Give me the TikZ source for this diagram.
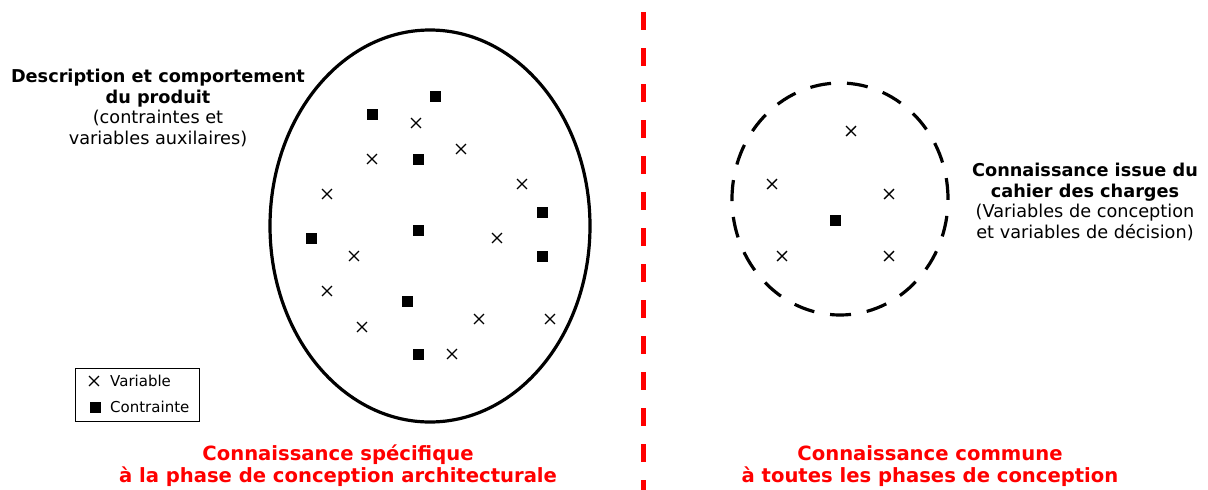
\documentclass[tikz,border=0pt]{standalone}
\usepackage{fontspec}
\setmainfont{DejaVu Sans}
\usetikzlibrary{shapes.geometric, shapes.misc, positioning}

\begin{document}
\begin{tikzpicture}[
    x=1pt, y=-1pt,
    var/.style={cross out, draw=black, line width=1.4pt, minimum size=8.5pt, inner sep=0pt},
    con/.style={rectangle, fill=black, minimum size=11pt, inner sep=0pt},
    lbl/.style={align=center, font=\fontsize{17.7}{20.7}\selectfont},
    knw/.style={align=center, text=red, font=\fontsize{19.6}{22}\selectfont\bfseries},
    leg/.style={font=\fontsize{15}{17}\selectfont, anchor=west, inner sep=0pt},
]
\useasboundingbox (0,0) rectangle (1208,490);

% Knowledge sets
\node[ellipse, draw, line width=3.2pt, minimum width=320pt, minimum height=392pt] (spec) at (430,226) {};
\node[ellipse, draw, line width=3.2pt, dash pattern=on 21pt off 16pt,
      minimum width=216pt, minimum height=232pt] (comm) at (840,199) {};

% Separator
\coordinate (septop) at (643,12);
\coordinate (sepbot) at (643,490);
\draw[red, line width=5pt, dash pattern=on 18pt off 18pt] (septop) -- (sepbot);

% Constraints (specific)
\node[con] (c1) at (435,96) {};
\node[con] (c2) at (372,114) {};
\node[con] (c3) at (418,159) {};
\node[con] (c4) at (418,230) {};
\node[con] (c5) at (311,238) {};
\node[con] (c6) at (542,212) {};
\node[con] (c7) at (542,256) {};
\node[con] (c8) at (407,301) {};
\node[con] (c9) at (418,354) {};

% Variables (specific)
\node[var] (v1) at (416,123) {};
\node[var] (v2) at (372,159) {};
\node[var] (v3) at (461,149) {};
\node[var] (v4) at (327,194) {};
\node[var] (v5) at (522,184) {};
\node[var] (v6) at (497,238) {};
\node[var] (v7) at (354,256) {};
\node[var] (v8) at (327,291) {};
\node[var] (v9) at (479,319) {};
\node[var] (v10) at (550,319) {};
\node[var] (v11) at (362,327) {};
\node[var] (v12) at (452,354) {};

% Common set
\node[var] (w1) at (851,131) {};
\node[var] (w2) at (772,184) {};
\node[var] (w3) at (889,194) {};
\node[var] (w4) at (782,256) {};
\node[var] (w5) at (889,256) {};
\node[con] (d1) at (835,220) {};

% Side labels
\node[lbl] (desc) at (158,108) {\textbf{Description et comportement}\\\textbf{du produit}\\(contraintes et\\variables auxilaires)};
\node[lbl] (cdc) at (1085,202) {\textbf{Connaissance issue du}\\\textbf{cahier des charges}\\(Variables de conception\\et variables de décision)};

% Legend
\node[draw, line width=1pt, minimum width=124pt, minimum height=53pt, inner sep=0pt] (legend) at (137,394.5) {};
\node[var] (lv) at (94,381) {};
\node[con] (lc) at (95,407) {};
\node[leg] (lvt) at (110,381) {Variable};
\node[leg] (lct) at (110,407) {Contrainte};

% Bottom captions
\node[knw] (kspec) at (338,466) {Connaissance spécifique\\à la phase de conception architecturale};
\node[knw] (kcomm) at (930,466) {Connaissance commune\\à toutes les phases de conception};

\end{tikzpicture}
\end{document}
